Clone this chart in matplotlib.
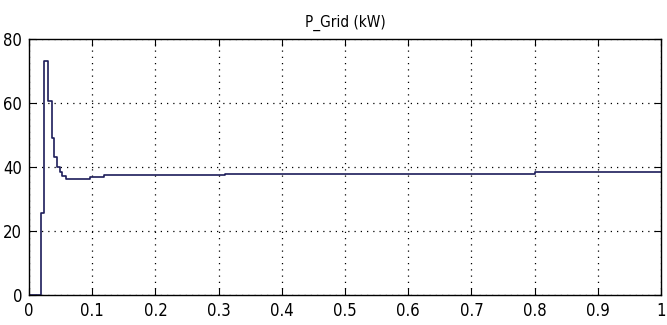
import numpy as np
import matplotlib.pyplot as plt

# step changes of P_Grid
t = [0.0, 0.0193, 0.0234, 0.0297, 0.036, 0.039, 0.0435, 0.0487, 0.0525, 0.0578,
     0.097, 0.119, 0.31, 0.80, 1.0]
p = [0.0, 25.6, 73.0, 60.5, 49.0, 43.0, 40.0, 38.3, 37.3, 36.4,
     36.9, 37.4, 37.9, 38.4, 38.4]

xticks = [0, 0.1, 0.2, 0.3, 0.4, 0.5, 0.6, 0.7, 0.8, 0.9, 1]
xlabels = ['0', '0.1', '0.2', '0.3', '0.4', '0.5', '0.6', '0.7', '0.8', '0.9', '1']
yticks = [0, 20, 40, 60, 80]

# narrow scope-style lettering
plt.rcParams['font.family'] = ['DejaVu Sans']
plt.rcParams['font.stretch'] = 'condensed'

fig = plt.figure(figsize=(6.67, 3.25), dpi=100)
ax = fig.add_axes([0.0435, 0.092, 0.9475, 0.788])

ax.plot(t, p, drawstyle='steps-post', color='#1c1c5a', lw=1.2)

ax.set_xlim(0, 1)
ax.set_ylim(0, 80)
ax.set_xticks(xticks)
ax.set_xticklabels(xlabels)
ax.set_yticks(yticks)
ax.grid(True, color='black', linestyle=(0, (1, 4)), lw=0.9)
ax.tick_params(direction='in', top=True, right=True, length=5,
               labelsize=12, colors='black', pad=5)
for s in ax.spines.values():
    s.set_linewidth(1.0)
ax.set_title('P_Grid (kW)', fontsize=11, pad=9)

fig.savefig('out.png', dpi=100)
